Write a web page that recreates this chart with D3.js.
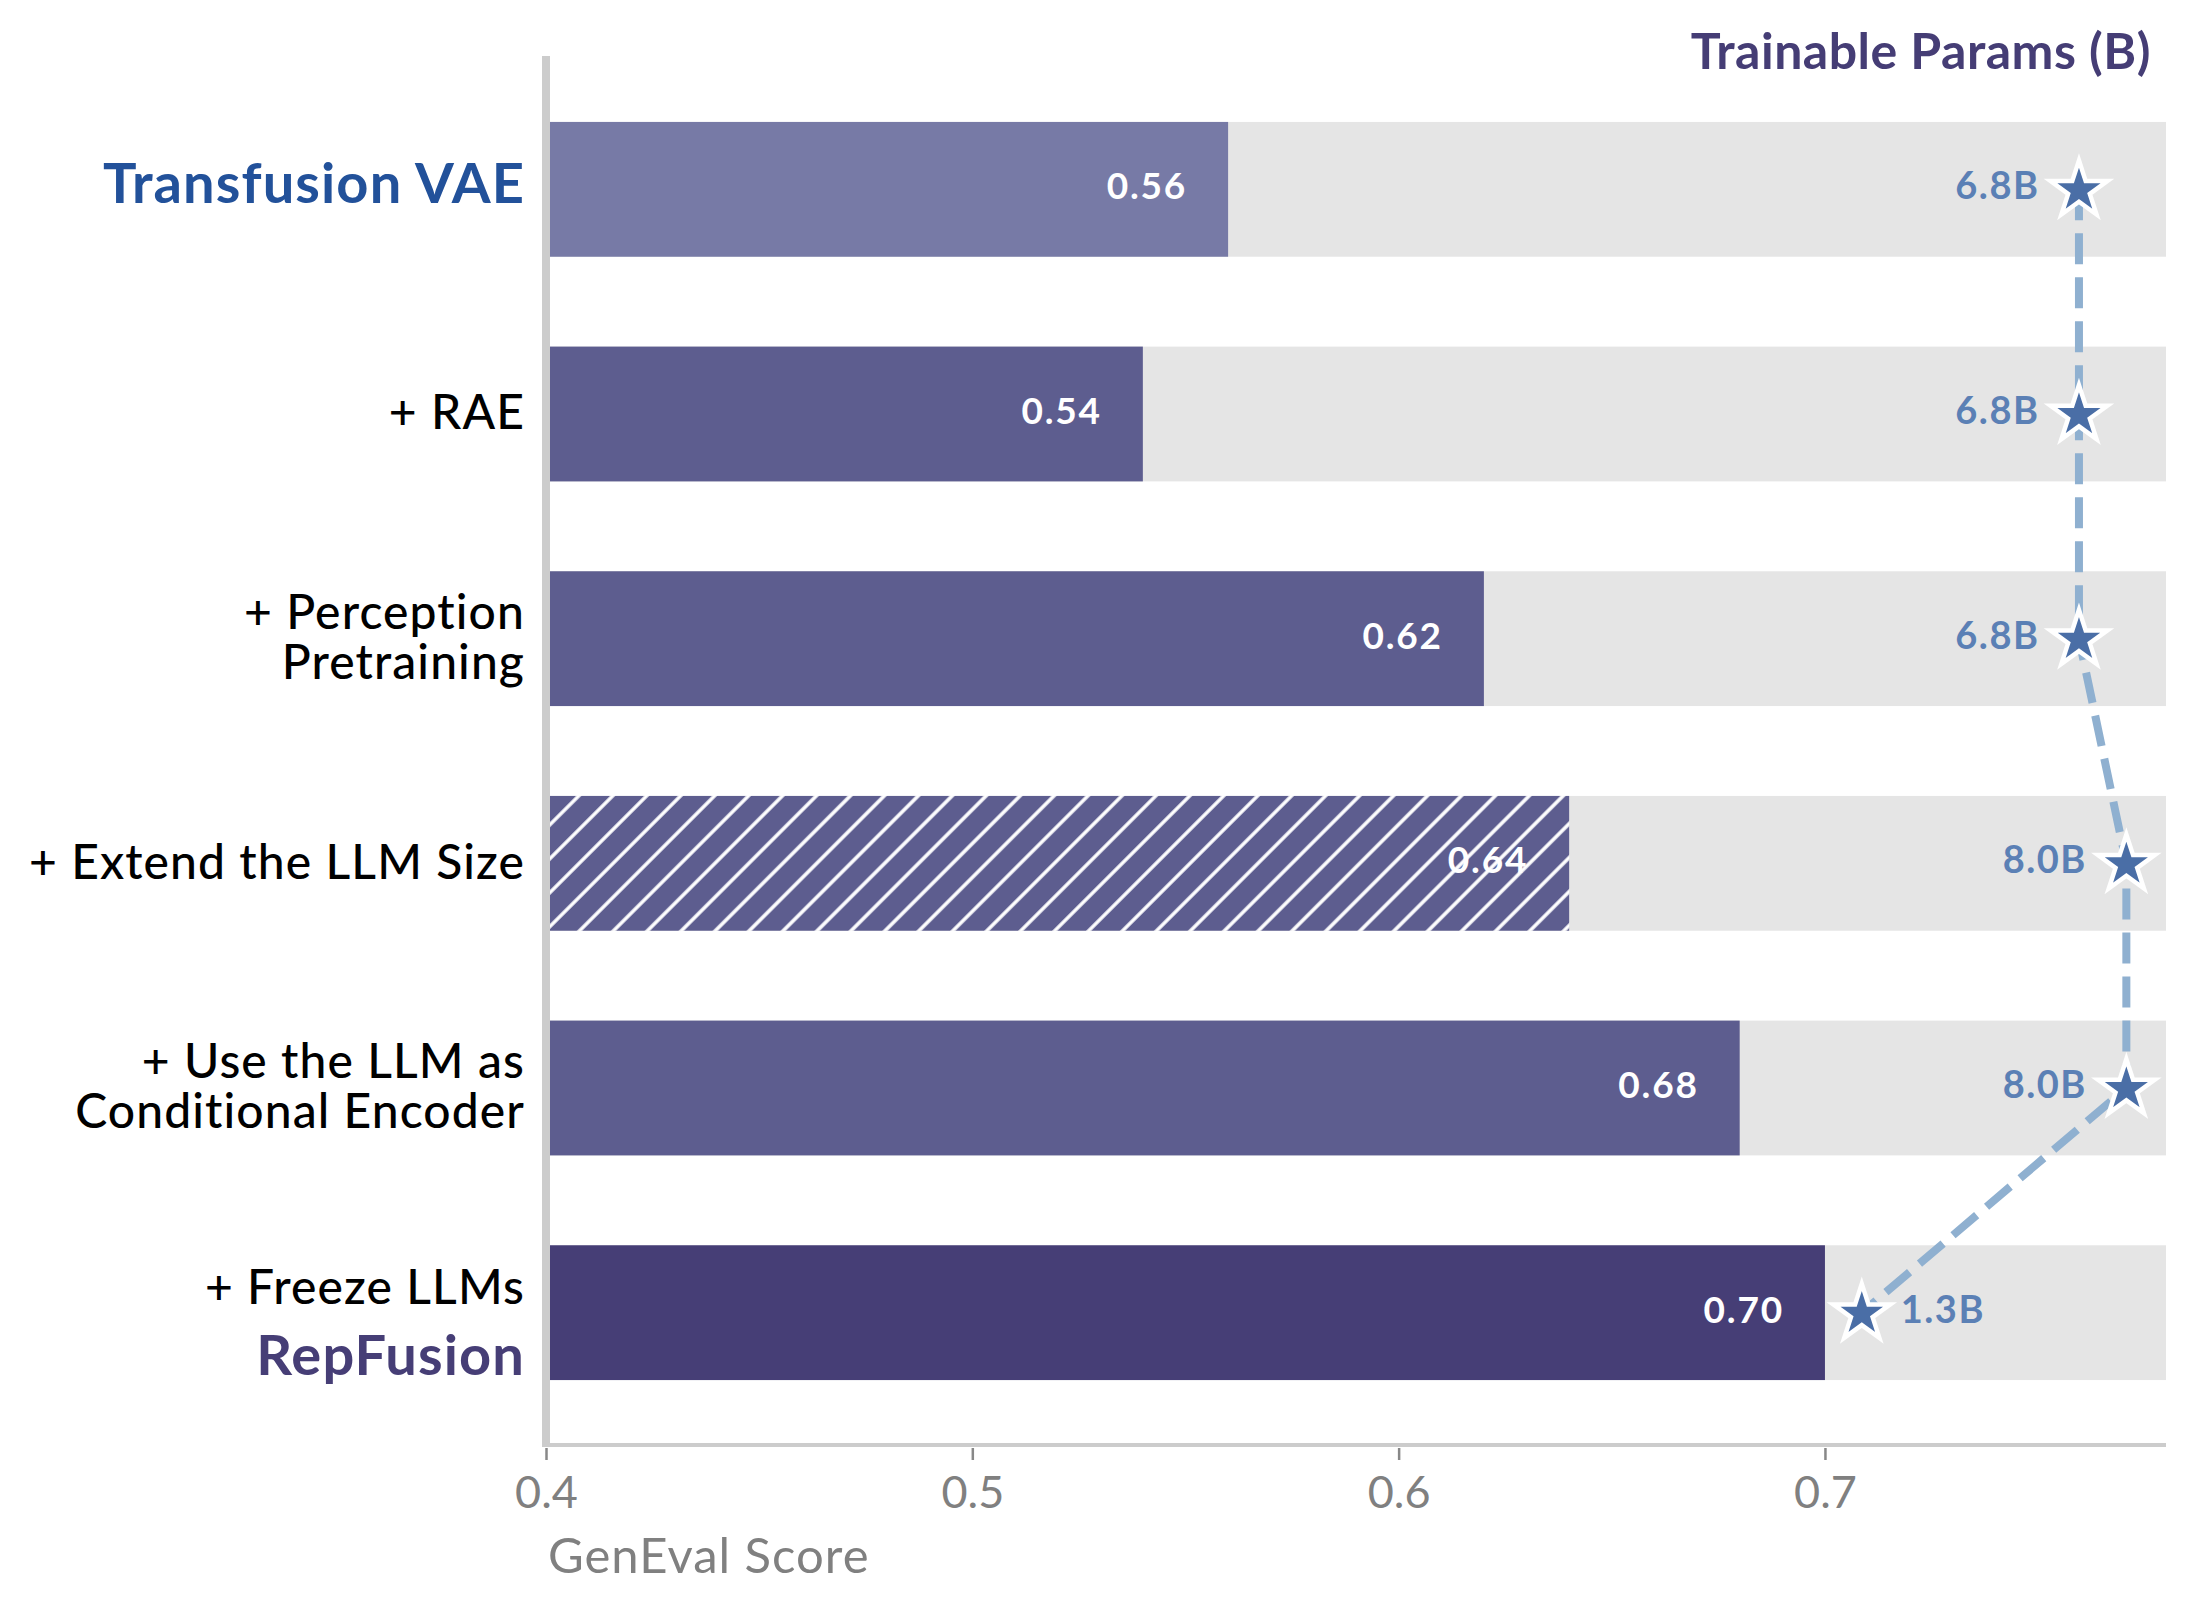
<!DOCTYPE html>
<html>
<head>
<meta charset="utf-8">
<script src="https://cdn.jsdelivr.net/npm/d3@7"></script>
<style>
  body { margin: 0; background: #fff; }
  text { font-family: Lato, "Noto Sans", sans-serif; }
</style>
</head>
<body>
<div id="chart"></div>
<script>
// data
var categories = [
  "Transfusion VAE",
  "+ RAE",
  "+ Perception\nPretraining",
  "+ Extend the LLM Size",
  "+ Use the LLM as\nConditional Encoder",
  "+ Freeze LLMs\nRepFusion"
];
var scores = [0.56, 0.54, 0.62, 0.64, 0.68, 0.70];
var params = [6.8, 6.8, 6.8, 8.0, 8.0, 1.3];
var paramLabels = ["6.8B", "6.8B", "6.8B", "8.0B", "8.0B", "1.3B"];
var xTicks = [0.4, 0.5, 0.6, 0.7];
var hatched = [false, false, false, true, false, false];

// colours
var barColors = ["#777aa6", "#5d5d8f", "#5d5d8f", "#5d5d8f", "#5d5d8f", "#463e76"];
var highlight = { "Transfusion VAE": "#22519a", "RepFusion": "#463e76" };

var svgWidth = 2196;
var svgHeight = 1612;

var svg = d3.select("#chart")
  .append("svg")
  .attr("width", svgWidth)
  .attr("height", svgHeight);

var xScale = d3.scaleLinear()
  .domain([0.4, 0.78])
  .range([546, 2166]);

var yScale = d3.scaleBand()
  .domain(d3.range(categories.length))
  .range([77, 1425])
  .paddingInner(0.4)
  .paddingOuter(0.2);

// secondary scale for the trainable params stars
var pScale = d3.scaleLinear()
  .domain([0, 8])
  .range([xScale(0.6966), xScale(0.7707)]);

var bw = yScale.bandwidth();
function mid(i) { return yScale(i) + bw / 2; }

// hatch pattern
var defs = svg.append("defs");
var pat = defs.append("pattern")
  .attr("id", "hatch")
  .attr("patternUnits", "userSpaceOnUse")
  .attr("width", 24)
  .attr("height", 24)
  .attr("patternTransform", "rotate(45)");
pat.append("rect")
  .attr("width", 24).attr("height", 24)
  .attr("fill", barColors[3]);
pat.append("line")
  .attr("x1", 12).attr("y1", 0)
  .attr("x2", 12).attr("y2", 24)
  .attr("stroke", "#fff")
  .attr("stroke-width", 3.5);

// grey background bars
svg.selectAll(".bg")
  .data(categories)
  .enter()
  .append("rect")
  .attr("class", "bg")
  .attr("x", xScale(0.4))
  .attr("y", (d, i) => yScale(i))
  .attr("width", xScale(0.78) - xScale(0.4))
  .attr("height", bw)
  .attr("fill", "#e5e5e5");

// score bars
svg.selectAll(".bar")
  .data(scores)
  .enter()
  .append("rect")
  .attr("class", "bar")
  .attr("x", xScale(0.4))
  .attr("y", (d, i) => yScale(i))
  .attr("width", d => xScale(d) - xScale(0.4))
  .attr("height", bw)
  .attr("fill", (d, i) => hatched[i] ? "url(#hatch)" : barColors[i]);

// score labels
svg.selectAll(".val")
  .data(scores)
  .enter()
  .append("text")
  .attr("class", "val")
  .attr("x", d => xScale(d) - 41)
  .attr("y", (d, i) => mid(i) + 10)
  .attr("text-anchor", "end")
  .attr("font-size", 37)
  .attr("font-weight", 700)
  .attr("letter-spacing", 1.8)
  .attr("fill", "#fff")
  .text(d => d.toFixed(2));

// axes lines
svg.append("line")
  .attr("x1", xScale(0.4) - 4).attr("x2", xScale(0.78))
  .attr("y1", 1445).attr("y2", 1445)
  .attr("stroke", "#cccccc")
  .attr("stroke-width", 4);

svg.append("line")
  .attr("x1", xScale(0.4)).attr("x2", xScale(0.4))
  .attr("y1", 56).attr("y2", 1447)
  .attr("stroke", "#cccccc")
  .attr("stroke-width", 8);

// bottom ticks
var bottomAxis = d3.axisBottom(xScale)
  .tickValues(xTicks)
  .tickSize(12)
  .tickPadding(16)
  .tickFormat(d3.format(".1f"));

var gx = svg.append("g")
  .attr("transform", "translate(0,1448)")
  .call(bottomAxis);
gx.select(".domain").remove();
gx.selectAll(".tick line").attr("stroke", "#888").attr("stroke-width", 2.5);
gx.selectAll(".tick text")
  .attr("fill", "#808080")
  .attr("font-size", 45)
  .attr("font-family", "Lato");

svg.append("text")
  .attr("x", 548)
  .attr("y", 1573)
  .attr("font-size", 49)
  .attr("letter-spacing", 1)
  .attr("fill", "#808080")
  .text("GenEval Score");

// category labels
categories.forEach(function(c, i) {
  var lines = c.split("\n");
  var big = lines.some(l => highlight[l]);
  var gap = big ? 68 : 50;
  var off = big ? (lines.length > 1 ? 8 : -6.5) : -2;
  lines.forEach(function(l, j) {
    var isHi = !!highlight[l];
    var fs = isHi ? 56 : 48;
    var cy = mid(i) + off + (j - (lines.length - 1) / 2) * gap;
    svg.append("text")
      .attr("x", 525)
      .attr("y", cy + fs * 0.717 / 2)
      .attr("text-anchor", "end")
      .attr("font-size", fs)
      .attr("font-weight", isHi ? 700 : 500)
      .attr("letter-spacing", 1.1)
      .attr("fill", isHi ? highlight[l] : "#000")
      .text(l);
  });
});

// params dashed line
var line = d3.line()
  .x(d => pScale(d))
  .y((d, i) => mid(i));

svg.append("path")
  .datum(params)
  .attr("d", line)
  .attr("fill", "none")
  .attr("stroke", "#8fb0d0")
  .attr("stroke-width", 8)
  .attr("stroke-dasharray", "31 13");

// stars
svg.selectAll(".star")
  .data(params)
  .enter()
  .append("path")
  .attr("class", "star")
  .attr("d", d3.symbol(d3.symbolStar, 1000))
  .attr("transform", (d, i) => "translate(" + pScale(d) + "," + (mid(i) + 1) + ")")
  .attr("fill", "#4a6ea6")
  .attr("stroke", "#fff")
  .attr("stroke-width", 4.5);

// param labels: left of the star, right when the star sits low
svg.selectAll(".plab")
  .data(params)
  .enter()
  .append("text")
  .attr("class", "plab")
  .attr("x", d => d < 5 ? pScale(d) + 39 : pScale(d) - 39.5)
  .attr("y", (d, i) => mid(i) + 10)
  .attr("text-anchor", d => d < 5 ? "start" : "end")
  .attr("font-size", 38)
  .attr("font-weight", 700)
  .attr("letter-spacing", 1.5)
  .attr("fill", "#5b80b5")
  .text((d, i) => paramLabels[i]);

// title at top right
svg.append("text")
  .attr("x", 2151)
  .attr("y", 69)
  .attr("text-anchor", "end")
  .attr("font-size", 50)
  .attr("font-weight", 700)
  .attr("letter-spacing", 0.5)
  .attr("fill", "#453d75")
  .text("Trainable Params (B)");
</script>
</body>
</html>
